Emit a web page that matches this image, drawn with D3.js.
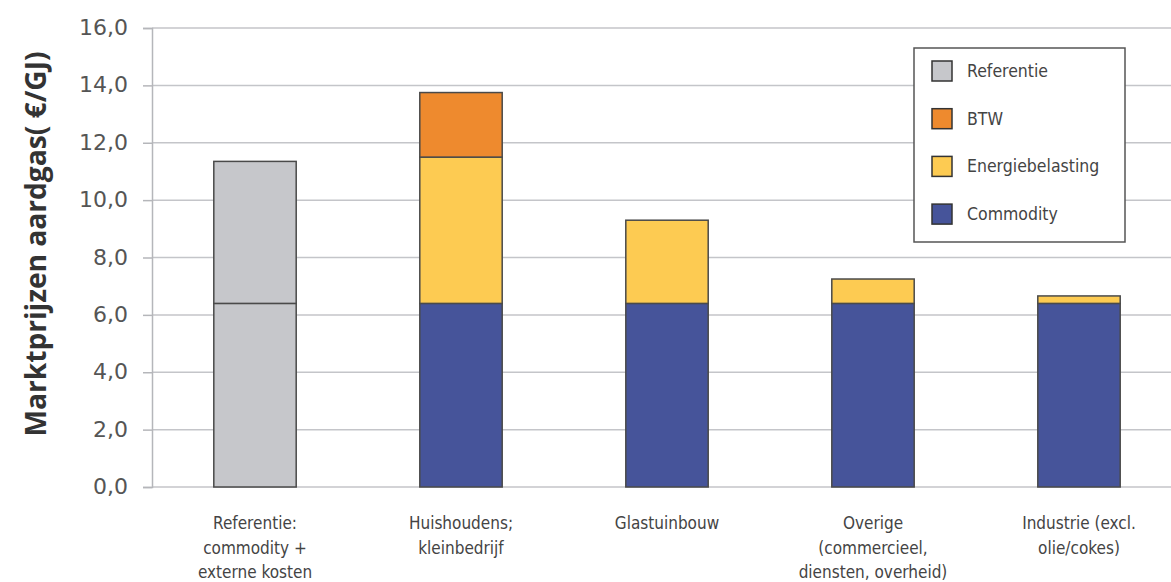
<!DOCTYPE html>
<html><head><meta charset="utf-8">
<script src="https://cdn.jsdelivr.net/npm/d3@7"></script>
<style>body{margin:0;background:#fff}svg{display:block}</style>
</head><body>
<svg id="c" width="1171" height="582"></svg>
<script>
const categories = [
  ["Referentie:", "commodity +", "externe kosten"],
  ["Huishoudens;", "kleinbedrijf"],
  ["Glastuinbouw"],
  ["Overige", "(commercieel,", "diensten, overheid)"],
  ["Industrie (excl.", "olie/cokes)"]
];
const referentieCommodity = [6.4, 0, 0, 0, 0];
const referentieExtern = [4.95, 0, 0, 0, 0];
const commodity = [0, 6.4, 6.4, 6.4, 6.4];
const energiebelasting = [0, 5.1, 2.9, 0.85, 0.26];
const btw = [0, 2.25, 0, 0, 0];
const yTicks = [0, 2, 4, 6, 8, 10, 12, 14, 16];
const legendItems = [["Referentie", "#c6c7cb"], ["BTW", "#ee8a2e"], ["Energiebelasting", "#fdcb52"], ["Commodity", "#46549a"]];

const svg = d3.select("#c");
const x0 = 152, x1 = 1182, yTop = 28, yBot = 487;
const idx = d3.range(categories.length);
const x = d3.scaleBand().domain(idx).range([x0, x1]).paddingInner(0.6).paddingOuter(0.3);
const y = d3.scaleLinear().domain([0, 16]).range([yBot, yTop]);

// grid
svg.append("g").selectAll("line").data(yTicks).join("line")
  .attr("x1", x0).attr("x2", 1171).attr("y1", d => y(d)).attr("y2", d => y(d))
  .attr("stroke", "#c4c5c9").attr("stroke-width", 1.5);

// y axis
const yAxis = d3.axisLeft(y).tickValues(yTicks).tickSize(9).tickPadding(15)
  .tickFormat(d => d3.format(".1f")(d).replace(".", ","));
const ga = svg.append("g").attr("transform", `translate(${x0},0)`).call(yAxis);
ga.select(".domain").attr("stroke", "#b5b6ba").attr("stroke-width", 1.5);
ga.selectAll(".tick line").attr("stroke", "#b5b6ba").attr("stroke-width", 1.5);
ga.selectAll(".tick text").attr("font-family", "'DejaVu Sans', sans-serif").attr("font-size", 22)
  .attr("fill", "#555").attr("dy", "0.3em");

// stacked bars
const layers = [
  [referentieCommodity, "#c6c7cb"],
  [referentieExtern, "#c6c7cb"],
  [commodity, "#46549a"],
  [energiebelasting, "#fdcb52"],
  [btw, "#ee8a2e"]
];
const base = idx.map(() => 0);
layers.forEach(([vals, col]) => {
  const segs = idx.map(i => ({i, y0: base[i], y1: base[i] + vals[i], v: vals[i]}));
  idx.forEach(i => base[i] += vals[i]);
  svg.append("g").selectAll("rect").data(segs.filter(s => s.v > 0)).join("rect")
    .attr("x", s => x(s.i)).attr("width", x.bandwidth())
    .attr("y", s => y(s.y1)).attr("height", s => y(s.y0) - y(s.y1))
    .attr("fill", col).attr("stroke", "#4a4a4a").attr("stroke-width", 1.5);
});

// y title
svg.append("text").attr("transform", "translate(46,244) rotate(-90)")
  .attr("text-anchor", "middle").attr("font-family", "'Open Sans', sans-serif")
  .attr("font-weight", "bold").attr("font-size", 28).attr("fill", "#333")
  .attr("textLength", 385).attr("lengthAdjust", "spacingAndGlyphs")
  .text("Marktprijzen aardgas( €/GJ)");

// x labels
const xl = svg.append("g");
categories.forEach((lines, i) => {
  const t = xl.append("text").attr("text-anchor", "middle")
    .attr("font-family", "'Liberation Sans Narrow', 'DejaVu Sans Condensed', sans-serif")
    .attr("font-size", 17).attr("fill", "#444");
  lines.forEach((l, k) => t.append("tspan").attr("x", x(i) + x.bandwidth() / 2).attr("y", 529 + k * 24.5).text(l));
});

// legend
const lg = svg.append("g");
lg.append("rect").attr("x", 914).attr("y", 48).attr("width", 211).attr("height", 194)
  .attr("fill", "#fff").attr("stroke", "#555").attr("stroke-width", 1.5);
legendItems.forEach(([name, col], k) => {
  const cy = 71 + k * 47.7;
  lg.append("rect").attr("x", 932).attr("y", cy - 10).attr("width", 20).attr("height", 20)
    .attr("fill", col).attr("stroke", "#333").attr("stroke-width", 1.5);
  lg.append("text").attr("x", 967).attr("y", cy + 6)
    .attr("font-family", "'Liberation Sans Narrow', 'DejaVu Sans Condensed', sans-serif")
    .attr("font-size", 17.5).attr("fill", "#444").text(name);
});
</script>
</body></html>
